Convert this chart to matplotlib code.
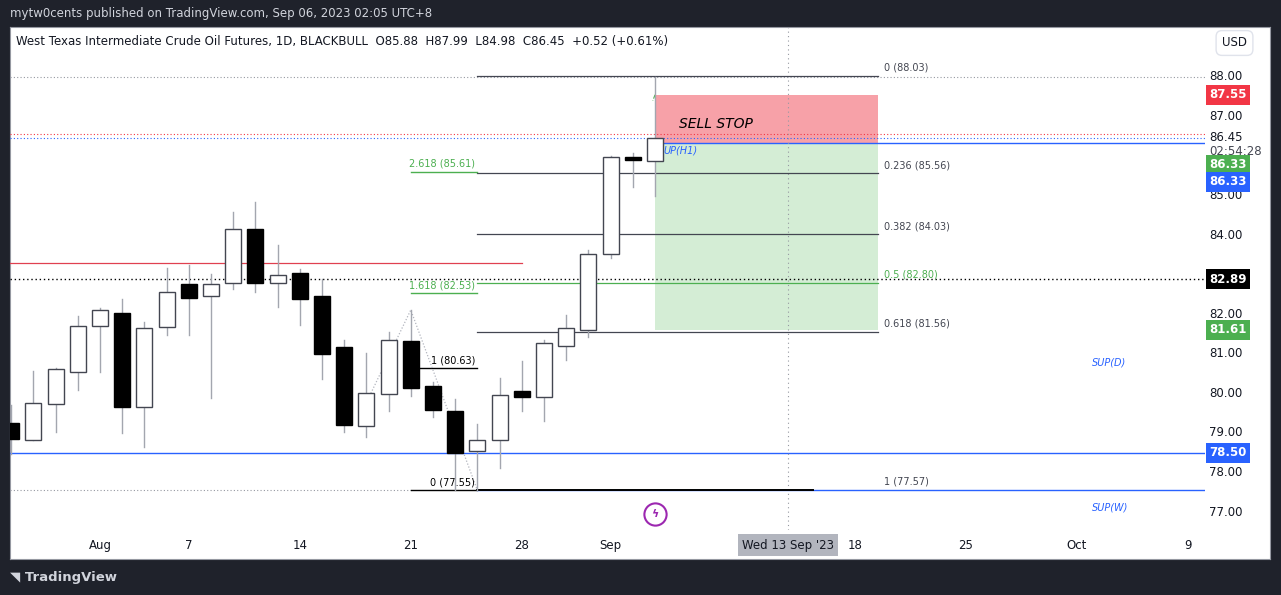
import matplotlib.pyplot as plt
from matplotlib.patches import Rectangle

# daily candles, index 0 = Aug 1 2023 (trading days)
idx = list(range(-4, 26))
opens = [79.24, 78.81, 79.72, 80.53, 81.70, 82.03, 79.65, 81.67, 82.77, 82.45, 82.78, 84.16, 82.78, 83.04, 82.46,
         81.17, 79.17, 79.98, 81.32, 80.19, 79.55, 78.54, 78.81, 80.06, 79.92, 81.19, 81.60, 83.52, 85.97, 85.88]
highs = [79.71, 80.57, 80.65, 81.96, 82.17, 82.39, 81.81, 83.17, 83.25, 83.02, 84.59, 84.84, 83.75, 83.15, 82.88,
         81.35, 81.01, 81.55, 82.11, 80.30, 79.85, 79.23, 80.38, 80.82, 81.35, 81.98, 83.63, 85.99, 86.07, 87.99]
lows = [78.48, 78.81, 79.03, 80.09, 80.55, 79.01, 78.65, 81.48, 81.48, 79.89, 82.63, 82.57, 82.19, 81.74, 80.37,
        79.03, 78.91, 79.56, 79.94, 79.41, 77.56, 77.56, 78.11, 79.56, 79.31, 80.84, 81.43, 83.43, 85.23, 84.98]
closes = [78.85, 79.75, 80.61, 81.70, 82.10, 79.66, 81.65, 82.56, 82.42, 82.76, 84.15, 82.80, 82.99, 82.39, 81.00,
          79.21, 80.00, 81.34, 80.14, 79.59, 78.49, 78.81, 79.95, 79.92, 81.27, 81.65, 83.52, 85.97, 85.91, 86.45]

tick_pos = [0, 4, 9, 14, 19, 23, 34, 39, 44, 49]
tick_lbl = ["Aug", "7", "14", "21", "28", "Sep", "18", "25", "Oct", "9"]

fib_right = [(0, 88.03), (0.236, 85.56), (0.382, 84.03), (0.5, 82.80), (0.618, 81.56), (1, 77.57)]
fib_left = [(2.618, 85.61), (1.618, 82.53), (1, 80.63), (0, 77.55)]

W, H = 1281, 595
fig = plt.figure(figsize=(W / 100, H / 100), dpi=100)
fig.patch.set_facecolor("#1f222b")
fig.text(10 / W, 1 - 13 / H, "mytw0cents published on TradingView.com, Sep 06, 2023 02:05 UTC+8",
         color="#d1d4dc", fontsize=8.5, va="center")
fig.text(10 / W, 1 - 577 / H, "\u25e5 TradingView", color="#d1d4dc", fontsize=9.5, va="center", weight="bold")
panel = fig.add_axes([10 / W, 1 - 559 / H, 1260 / W, 532 / H], zorder=-1)
panel.set_facecolor("white")
panel.set_xticks([])
panel.set_yticks([])
for s in panel.spines.values():
    s.set_color("#9598a1")
    s.set_linewidth(0.8)

ax = fig.add_axes([10 / W, 1 - 530 / H, 1195 / W, 503 / H])
ax.set_facecolor("none")
ax.set_xlim(-4.05, 49.77)
ax.set_ylim(76.546, 89.264)
for s in ax.spines.values():
    s.set_visible(False)
ax.set_xticks([])
ax.set_yticks([])

fs = 8.5
# horizontal lines
ax.axhline(88.0, color="#9598a1", lw=0.8, ls=(0, (1, 2)))
ax.axhline(86.55, color="#f23645", lw=0.8, ls=(0, (1, 2)))
ax.axhline(86.45, color="#2962ff", lw=0.8, ls=(0, (1, 2)))
ax.axhline(82.89, color="black", lw=1, ls=(0, (1, 2)))
ax.axhline(78.50, color="#2962ff", lw=1)
ax.plot([-4.05, 19], [83.30, 83.30], color="#e04050", lw=0.9)
ax.plot([-4.05, 14], [77.57, 77.57], color="#9598a1", lw=0.8, ls=(0, (1, 2)))
ax.plot([17, 49.77], [77.57, 77.57], color="#2962ff", lw=1)
ax.plot([25, 49.77], [86.33, 86.33], color="#2962ff", lw=1)
ax.axvline(31, color="#9598a1", lw=0.8, ls=(0, (1, 3)))

# position tool
ax.add_patch(Rectangle((25, 86.33), 10.05, 87.55 - 86.33, facecolor="#f7a1a8", edgecolor="none", zorder=1))
ax.add_patch(Rectangle((25, 81.61), 10.05, 86.33 - 81.61, facecolor="#d4edd5", edgecolor="none", zorder=1))
ax.text(26.1, 86.82, "SELL STOP", fontsize=10, style="italic", va="center", zorder=6)
ax.text(25.4, 86.15, "UP(H1)", fontsize=7, style="italic", color="#2962ff", va="center", zorder=6)
ax.text(44.7, 80.78, "SUP(D)", fontsize=7, style="italic", color="#2962ff", va="center")
ax.text(44.7, 77.12, "SUP(W)", fontsize=7, style="italic", color="#2962ff", va="center")

# fib retracement (right)
for lvl, p in fib_right:
    c = "#4caf50" if lvl == 0.5 else "#434651"
    ax.plot([17, 35.05 if lvl != 1 else 32.1], [p, p], color="black" if lvl == 1 else c,
            lw=1.4 if lvl == 1 else 0.9, zorder=2)
    ax.text(35.3, p + 0.2, f"{lvl:g} ({p:.2f})", fontsize=7, color=c, va="center")
# fib extension (left)
for lvl, p in fib_left:
    c = "#4caf50" if lvl > 1 else "black"
    ax.plot([14, 17], [p, p], color=c, lw=1, zorder=2)
    ax.text(16.9, p + 0.2, f"{lvl:g} ({p:.2f})", fontsize=7, color=c, va="center", ha="right")
ax.plot([12.2, 14, 17], [80.0, 82.11, 77.55], color="#b2b5be", lw=0.9, ls=(0, (1, 1.5)), zorder=2)
ax.plot([25, 24.9], [87.55, 87.4], color="#4caf50", lw=0.8, ls="--")

# candles
for i, o, h, l, c in zip(idx, opens, highs, lows, closes):
    ax.plot([i, i], [l, h], color="#a3a6af", lw=1, zorder=3)
    up = c >= o
    ax.add_patch(Rectangle((i - 0.36, min(o, c)), 0.72, max(abs(c - o), 0.04),
                           facecolor="white" if up else "black", edgecolor="#434651" if up else "black",
                           lw=1, zorder=4))

# time axis
tr = ax.get_xaxis_transform()
for p, t in zip(tick_pos, tick_lbl):
    ax.text(p, -0.03, t, transform=tr, fontsize=fs, ha="center", va="center", color="#131722")
ax.text(31, -0.03, "Wed 13 Sep '23", transform=tr, fontsize=fs, ha="center", va="center",
        color="#131722", bbox=dict(boxstyle="square,pad=0.35", fc="#b2b5be", ec="none"), zorder=7)
ax.plot([25], [76.95], marker="o", ms=16, mfc="none", mec="#9c27b0", mew=1.5)
ax.text(25, 76.95, "\u03df", color="#9c27b0", fontsize=8, ha="center", va="center", weight="bold")

# price axis
ty = ax.get_yaxis_transform()
for v in [88.0, 87.0, 85.0, 84.0, 82.0, 81.0, 80.0, 79.0, 78.0, 77.0]:
    ax.text(1.0035, v, f"{v:.2f}", transform=ty, fontsize=fs, va="center", color="#131722", zorder=6)
ax.text(1.0035, 86.47, "86.45", transform=ty, fontsize=fs, va="center", color="#131722")
ax.text(1.0035, 86.12, "02:54:28", transform=ty, fontsize=fs, va="center", color="#434651")
for v, c, yy in [(87.55, "#f23645", 87.55), (86.33, "#4caf50", 85.78), (86.33, "#2962ff", 85.35),
                 (82.89, "black", 82.89), (81.61, "#4caf50", 81.61), (78.50, "#2962ff", 78.50)]:
    ax.text(1.0035, yy, f"{v:.2f}", transform=ty, fontsize=fs, va="center", color="white", weight="bold",
            bbox=dict(boxstyle="square,pad=0.3", fc=c, ec="none"), zorder=7)
fig.text(1222 / W, 1 - 43 / H, "USD", fontsize=fs, va="center", color="#131722",
         bbox=dict(boxstyle="round,pad=0.5", fc="white", ec="#e0e3eb"))
ax.text(0.005, 1 - 14 / 503, "West Texas Intermediate Crude Oil Futures, 1D, BLACKBULL  O85.88  H87.99  L84.98  C86.45  +0.52 (+0.61%)",
        transform=ax.transAxes, fontsize=fs, va="center", color="#131722")

fig.savefig("out.png", dpi=100, facecolor=fig.get_facecolor())
